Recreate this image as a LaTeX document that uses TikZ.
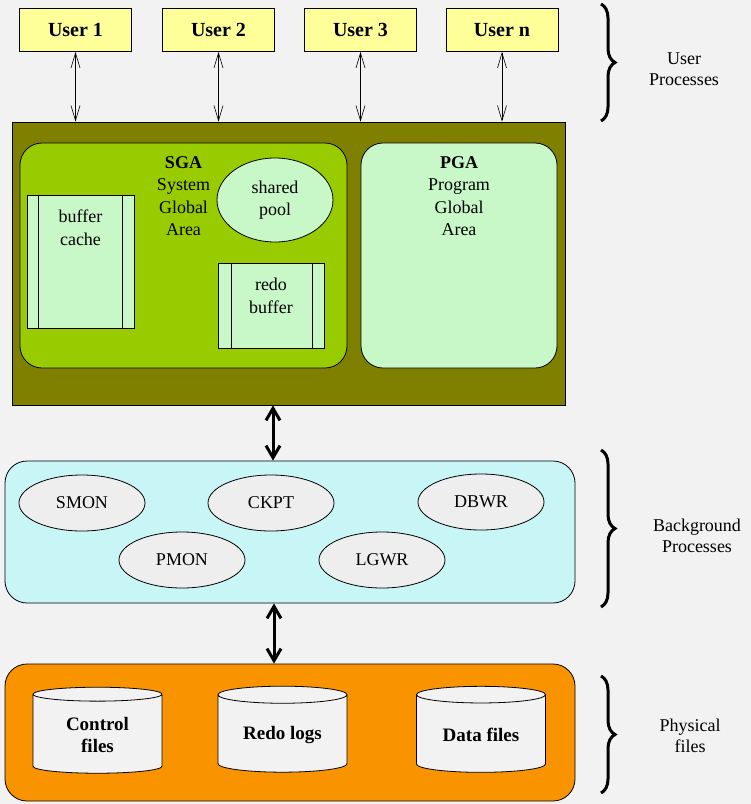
\documentclass[tikz,border=0pt]{standalone}
\usepackage{fontspec}
\setmainfont{Liberation Serif}[BoldFont={Liberation Serif Bold}]
\usepackage{xcolor}
\usetikzlibrary{positioning,arrows.meta,shapes,decorations.pathreplacing,calc}

\definecolor{paleGray}{HTML}{F2F2F2}
\definecolor{userYellow}{HTML}{FFFF99}
\definecolor{sgaOlive}{HTML}{808000}
\definecolor{sgaGreen}{HTML}{99CC00}
\definecolor{pgaGreen}{HTML}{C8F8C8}
\definecolor{bgCyan}{HTML}{C8F6F6}
\definecolor{fileOrange}{HTML}{F99400}
\definecolor{procGray}{HTML}{EEEEEE}

\tikzset{
  userbox/.style={draw, thick, fill=userYellow, minimum width=112pt, minimum height=43pt,
    font=\fontsize{20}{24}\selectfont\bfseries},
  roundbox/.style={draw, thick, rounded corners=22pt},
  areatext/.style={anchor=north, yshift=-10pt, align=center, font=\fontsize{18}{22.5}\selectfont},
  membox/.style={draw, thick, fill=pgaGreen},
  proc/.style={ellipse, draw, thick, fill=procGray, minimum width=126pt, minimum height=56pt,
    font=\fontsize{18}{22}\selectfont},
  filecyl/.style={cylinder, shape border rotate=90, aspect=0.2, draw, thick, fill=paleGray,
    minimum width=129pt, minimum height=86pt, align=center, font=\fontsize{19}{22}\selectfont\bfseries},
  sidetext/.style={align=center, font=\fontsize{18}{21}\selectfont},
  bracket/.style={line width=3pt, decorate, decoration={brace, amplitude=14pt}},
  thinarrow/.style={<->, semithick, >={Straight Barb[length=15pt,width=9pt]}},
  bigarrow/.style={<->, line width=3pt, >={Straight Barb[length=12pt,width=14pt]}}
}

\begin{document}
\begin{tikzpicture}[x=1pt, y=-1pt]
        % Background
        \fill[paleGray] (0,0) rectangle (751,804);

        % User processes
        \node[userbox] (u1) at (75.5,30) {User 1};
        \node[userbox] (u2) at (218.5,30) {User 2};
        \node[userbox] (u3) at (360.5,30) {User 3};
        \node[userbox] (un) at (502,30) {User n};

        % Memory areas
        \node[draw, thick, fill=sgaOlive, minimum width=553pt, minimum height=283pt] (sga) at (288.5,263.5) {};
        \node[roundbox, fill=sgaGreen, minimum width=327pt, minimum height=225pt,
          label={[areatext]north:{\textbf{SGA}\\System\\Global\\Area}}] (sgain) at (183.5,255.5) {};
        \node[roundbox, fill=pgaGreen, minimum width=196pt, minimum height=225pt,
          label={[areatext]north:{\textbf{PGA}\\Program\\Global\\Area}}] (pga) at (459,255.5) {};
        \node[membox, minimum width=107pt, minimum height=133pt,
          label={[areatext, yshift=-2pt]north:{buffer\\cache}}] (bufcache) at (80.5,261.5) {};
        \node[ellipse, draw, thick, fill=pgaGreen, minimum width=116pt, minimum height=84pt, align=center,
          font=\fontsize{18}{22.5}\selectfont] (pool) at (275,200) {shared\\pool};
        \node[membox, minimum width=106pt, minimum height=85pt,
          label={[areatext, yshift=-2pt]north:{redo\\buffer}}] (redo) at (271,305.5) {};

        % Side bars of the buffers
        \draw[thick] ([xshift=12pt]bufcache.north west) -- ([xshift=12pt]bufcache.south west);
        \draw[thick] ([xshift=-12pt]bufcache.north east) -- ([xshift=-12pt]bufcache.south east);
        \draw[thick] ([xshift=14pt]redo.north west) -- ([xshift=14pt]redo.south west);
        \draw[thick] ([xshift=-12pt]redo.north east) -- ([xshift=-12pt]redo.south east);

        % Background processes
        \node[roundbox, fill=bgCyan, minimum width=570pt, minimum height=142pt] (bgp) at (290,532) {};
        \node[proc] (smon) at (82,503) {SMON};
        \node[proc] (ckpt) at (271,503) {CKPT};
        \node[proc] (dbwr) at (481,502) {DBWR};
        \node[proc] (pmon) at (182,560) {PMON};
        \node[proc] (lgwr) at (382,560) {LGWR};

        % Physical files
        \node[roundbox, fill=fileOrange, minimum width=570pt, minimum height=137pt] (files) at (290,732.5) {};
        \node[filecyl] (ctl) at (97.5,735) {Control\\files};
        \node[filecyl] (logs) at (282.5,735) {Redo logs};
        \node[filecyl] (data) at (481,735) {Data files};

        % Draw arrows
        \draw[thinarrow] (u1.south) -- (u1 |- sga.north);
        \draw[thinarrow] (u2.south) -- (u2 |- sga.north);
        \draw[thinarrow] (u3.south) -- (u3 |- sga.north);
        \draw[thinarrow] (un.south) -- (un |- sga.north);
        \draw[bigarrow] ([xshift=2pt]ckpt |- sga.south) -- ([xshift=2pt]ckpt |- bgp.north);
        \draw[bigarrow] ([xshift=3pt]ckpt |- bgp.south) -- ([xshift=3pt]ckpt |- files.north);

        % Side labels
        \node[sidetext] (userlbl) at (684,69) {User\\Processes};
        \node[sidetext] (bglbl) at (697,536) {Background\\Processes};
        \node[sidetext] (physlbl) at (690,736) {Physical\\files};
        \draw[bracket] (601,4) -- (601,121);
        \draw[bracket] (601,450) -- (601,607);
        \draw[bracket] (601,676) -- (601,793);
      \end{tikzpicture}
\end{document}
